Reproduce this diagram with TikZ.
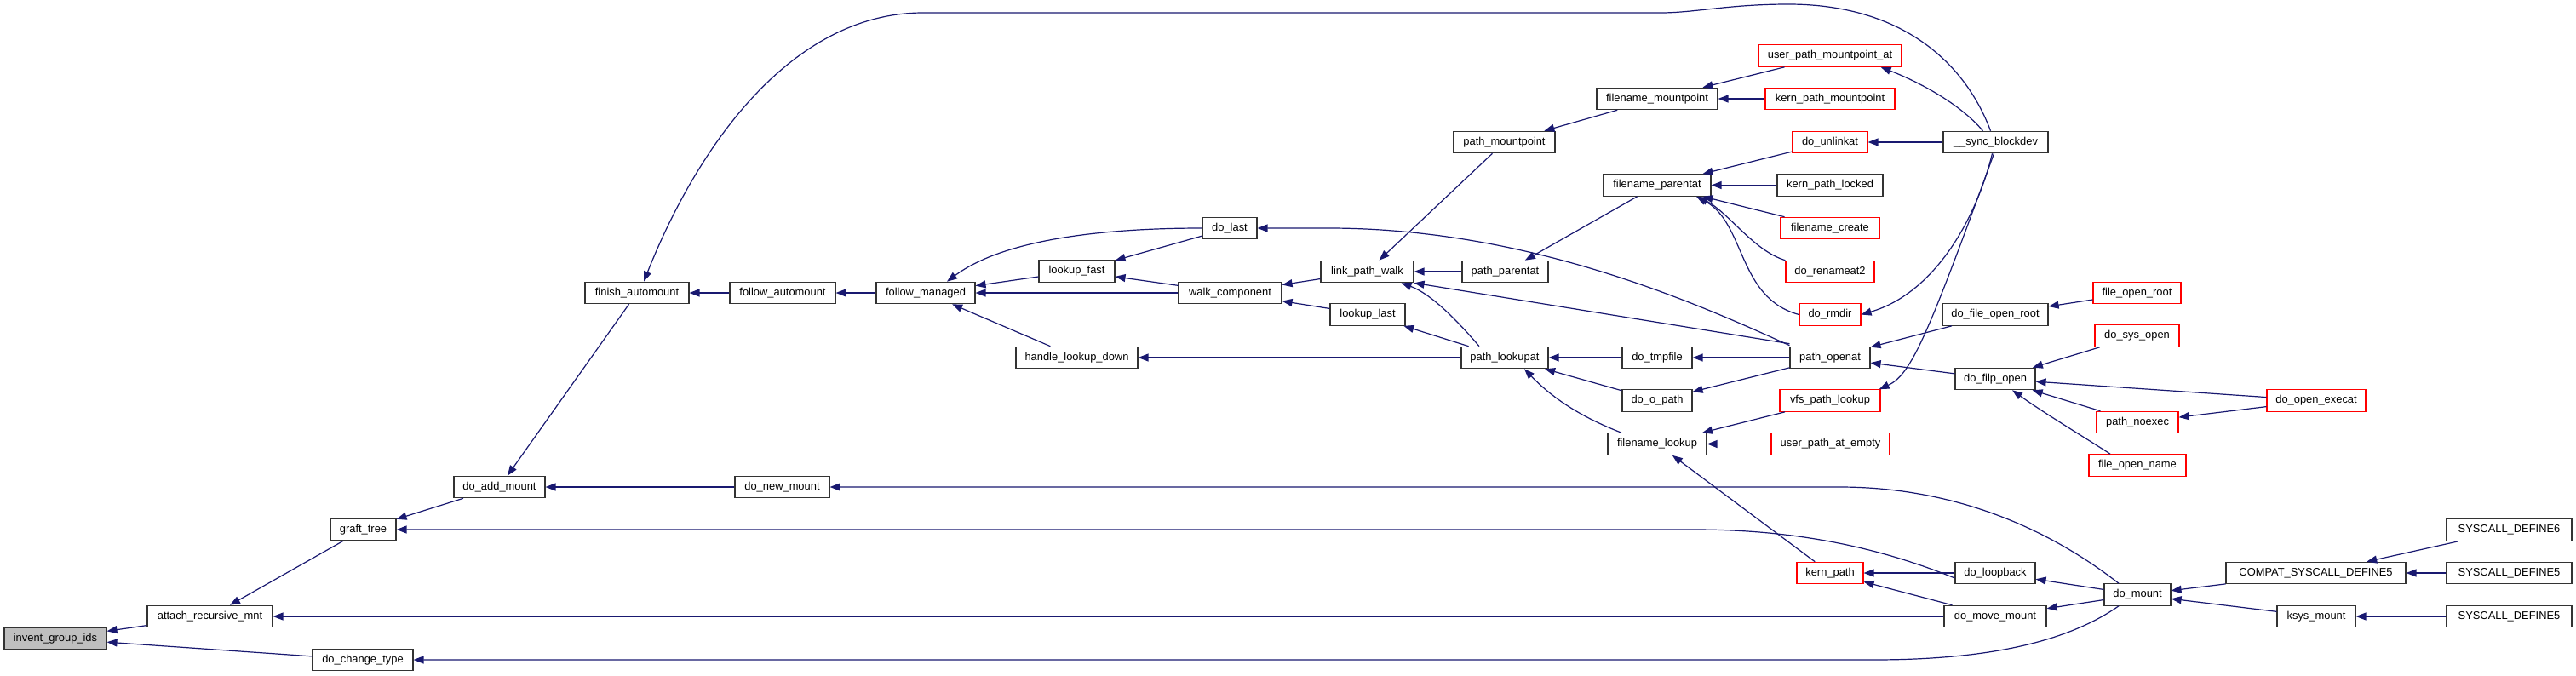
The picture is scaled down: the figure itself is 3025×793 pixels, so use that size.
\documentclass[tikz,border=0pt]{standalone}
\usepackage{fontspec}
\setmainfont{Liberation Sans}
\usetikzlibrary{arrows.meta}
\definecolor{edgeblue}{HTML}{191970}
\definecolor{nodegray}{HTML}{BFBFBF}
\definecolor{redborder}{HTML}{FF0000}
\begin{document}
\begin{tikzpicture}[x=1pt,y=-1pt,
  fn/.style={draw=black!80, line width=1.1pt, fill=white, minimum height=25.5pt, inner sep=0pt, font=\fontsize{12.9}{14}\selectfont, text=black},
  rfn/.style={fn, draw=redborder},
  e/.style={draw=edgeblue, line width=1.2pt, -{Triangle[length=12pt,width=9pt]}}]
\useasboundingbox (0,0) rectangle (3025,793);
% nodes
\node[fn, minimum width=120pt, fill=nodegray] (inv) at (65,750) {invent\_group\_ids};
\node[fn, minimum width=147pt] (arm) at (246.5,724) {attach\_recursive\_mnt};
\node[fn, minimum width=118pt] (dct) at (426,775) {do\_change\_type};
\node[fn, minimum width=77pt] (gt) at (426.5,622) {graft\_tree};
\node[fn, minimum width=107pt] (dam) at (586.5,572) {do\_add\_mount};
\node[fn, minimum width=122pt] (fa) at (748,344) {finish\_automount};
\node[fn, minimum width=124pt] (fau) at (919,344) {follow\_automount};
\node[fn, minimum width=116pt] (fm) at (1087,344) {follow\_managed};
\node[fn, minimum width=89pt] (lf) at (1264.5,318.5) {lookup\_fast};
\node[fn, minimum width=64pt] (dl) at (1444,268) {do\_last};
\node[fn, minimum width=121pt] (wc) at (1444.5,344) {walk\_component};
\node[fn, minimum width=143pt] (hld) at (1264.5,420) {handle\_lookup\_down};
\node[fn, minimum width=111pt] (dnm) at (918.5,572) {do\_new\_mount};
\node[rfn, minimum width=168pt] (upma) at (2149,65.5) {user\_path\_mountpoint\_at};
\node[fn, minimum width=142pt] (fmp) at (1946,116) {filename\_mountpoint};
\node[rfn, minimum width=152pt] (kpm) at (2149,116) {kern\_path\_mountpoint};
\node[fn, minimum width=119pt] (pm) at (1766.5,167) {path\_mountpoint};
\node[rfn, minimum width=88pt] (du) at (2149,167) {do\_unlinkat};
\node[fn, minimum width=126pt] (fp) at (1946,217.5) {filename\_parentat};
\node[fn, minimum width=124pt] (kpl) at (2149,217.5) {kern\_path\_locked};
\node[rfn, minimum width=116pt] (fc) at (2149,268) {filename\_create};
\node[rfn, minimum width=104pt] (dr2) at (2149,319) {do\_renameat2};
\node[rfn, minimum width=72pt] (drm) at (2149,369.5) {do\_rmdir};
\node[fn, minimum width=109pt] (lpw) at (1605.5,319) {link\_path\_walk};
\node[fn, minimum width=101pt] (pp) at (1767.5,319) {path\_parentat};
\node[fn, minimum width=88pt] (ll) at (1606,369.5) {lookup\_last};
\node[fn, minimum width=102pt] (pl) at (1767,420) {path\_lookupat};
\node[fn, minimum width=82pt] (dtf) at (1946,420) {do\_tmpfile};
\node[fn, minimum width=94pt] (po) at (2149,420) {path\_openat};
\node[fn, minimum width=82pt] (dop) at (1946,470.5) {do\_o\_path};
\node[rfn, minimum width=118pt] (vpl) at (2149,470.5) {vfs\_path\_lookup};
\node[fn, minimum width=116pt] (fl) at (1946,521.5) {filename\_lookup};
\node[rfn, minimum width=139pt] (upae) at (2149.5,521.5) {user\_path\_at\_empty};
\node[rfn, minimum width=78pt] (kp) at (2149,673) {kern\_path};
\node[fn, minimum width=123pt] (sb) at (2343.5,167) {\_\_sync\_blockdev};
\node[fn, minimum width=124pt] (dfor) at (2343,369.5) {do\_file\_open\_root};
\node[rfn, minimum width=103pt] (for) at (2509.5,344) {file\_open\_root};
\node[rfn, minimum width=99pt] (dso) at (2509.5,394.5) {do\_sys\_open};
\node[fn, minimum width=94pt] (dfo) at (2343,445) {do\_filp\_open};
\node[rfn, minimum width=116pt] (doe) at (2720,470.5) {do\_open\_execat};
\node[rfn, minimum width=96pt] (pn) at (2510,496) {path\_noexec};
\node[rfn, minimum width=114pt] (fon) at (2510,546.5) {file\_open\_name};
\node[fn, minimum width=147pt] (sd6) at (2946.5,622.5) {SYSCALL\_DEFINE6};
\node[fn, minimum width=211pt] (csd5) at (2719.5,673) {COMPAT\_SYSCALL\_DEFINE5};
\node[fn, minimum width=147pt] (sd5a) at (2946.5,673) {SYSCALL\_DEFINE5};
\node[fn, minimum width=94pt] (dlb) at (2343,673) {do\_loopback};
\node[fn, minimum width=78pt] (dm) at (2510,698.5) {do\_mount};
\node[fn, minimum width=120pt] (dmm) at (2343,724) {do\_move\_mount};
\node[fn, minimum width=92pt] (km) at (2720,724) {ksys\_mount};
\node[fn, minimum width=147pt] (sd5b) at (2946.5,724) {SYSCALL\_DEFINE5};
% edges
\draw[e] (arm) -- (inv);
\draw[e] (dct) -- (inv);
\draw[e] (gt) -- (arm);
\draw[e] (dmm.west) -- (arm.east);
\draw[e] ([xshift=-22pt]dm.south) .. controls (2440,745) and (2360,775) .. (2200,775) -- (dct.east);
\draw[e] (dam) -- (gt);
\draw[e] ([yshift=-6pt]dlb.west) .. controls (2200,640) and (2100,622) .. (1990,622) -- (gt.east);
\draw[e] (fa) -- (dam);
\draw[e] (dnm.west) -- (dam.east);
\draw[e] ([xshift=-6pt]sb.north) .. controls (2310,80) and (2240,5) .. (2100,5) .. controls (2030,5) and (1990,15) .. (1950,15) -- (1084,15) .. controls (930,15) and (820,170) .. ([xshift=8pt]fa.north);
\draw[e] ([xshift=-22pt]dm.north) .. controls (2430,640) and (2320,572) .. (2160,572) -- (dnm.east);
\draw[e] (fau) -- (fa);
\draw[e] (fm) -- (fau);
\draw[e] (dl.west) .. controls (1300,268) and (1180,280) .. ([xshift=25pt]fm.north);
\draw[e] (lf) -- (fm);
\draw[e] (wc) -- (fm);
\draw[e] (hld) -- (fm);
\draw[e] (dl) -- (lf);
\draw[e] (wc) -- (lf);
\draw[e] ([yshift=1pt]po.north west) .. controls (2000,360) and (1800,268) .. (1560,268) -- (dl.east);
\draw[e] (lpw) -- (wc);
\draw[e] (ll) -- (wc);
\draw[e] (pl) -- (hld);
\draw[e] (pm) -- (lpw);
\draw[e] (pp) -- (lpw);
\draw[e] ([yshift=3pt]po.north west) -- (lpw.south east);
\draw[e] ([xshift=-30pt]pl.north) .. controls (1710,375) and (1680,345) .. ([xshift=-15pt]lpw.south east);
\draw[e] (pl) -- (ll);
\draw[e] (fmp) -- (pm);
\draw[e] (upma) -- (fmp);
\draw[e] (kpm) -- (fmp);
\draw[e] (fp) -- (pp);
\draw[e] (du) -- (fp);
\draw[e] (kpl) -- (fp);
\draw[e] (fc) -- (fp);
\draw[e] (dr2.north west) .. controls (2060,295) and (2030,250) .. ([xshift=48pt]fp.south);
\draw[e] (drm.west) .. controls (2040,350) and (2050,262) .. ([xshift=46pt]fp.south);
\draw[e] (dtf) -- (pl);
\draw[e] (dop) -- (pl);
\draw[e] ([xshift=-42pt]fl.north) .. controls (1870,495) and (1830,475) .. ([xshift=23pt]pl.south);
\draw[e] (po) -- (dtf);
\draw[e] (po) -- (dop);
\draw[e] (vpl) -- (fl);
\draw[e] (upae) -- (fl);
\draw[e] (kp) -- (fl);
\draw[e] (dfor) -- (po);
\draw[e] (dfo) -- (po);
\draw[e] (for) -- (dfor);
\draw[e] (dso) -- (dfo);
\draw[e] (doe) -- (dfo);
\draw[e] (pn) -- (dfo);
\draw[e] ([xshift=-32pt]fon.north) .. controls (2450,515) and (2400,485) .. ([xshift=20pt]dfo.south);
\draw[e] (doe) -- (pn);
\draw[e] (dlb.west) -- (kp.east);
\draw[e] (dmm) -- (kp);
\draw[e] (dm) -- (dlb);
\draw[e] (dm) -- (dmm);
\draw[e] (csd5) -- (dm);
\draw[e] (km) -- (dm);
\draw[e] (sd6) -- (csd5);
\draw[e] (sd5a) -- (csd5);
\draw[e] (sd5b) -- (km);
\draw[e] ([xshift=-15pt]sb.north) .. controls (2300,120) and (2250,95) .. ([xshift=-25pt]upma.south east);
\draw[e] (sb.west) -- (du.east);
\draw[e] ([xshift=-4pt]sb.south) .. controls (2320,260) and (2270,345) .. (drm.east);
\draw[e] ([xshift=-2pt]sb.south) .. controls (2265,390) and (2245,440) .. ([xshift=-2pt]vpl.north east);
\end{tikzpicture}
\end{document}
